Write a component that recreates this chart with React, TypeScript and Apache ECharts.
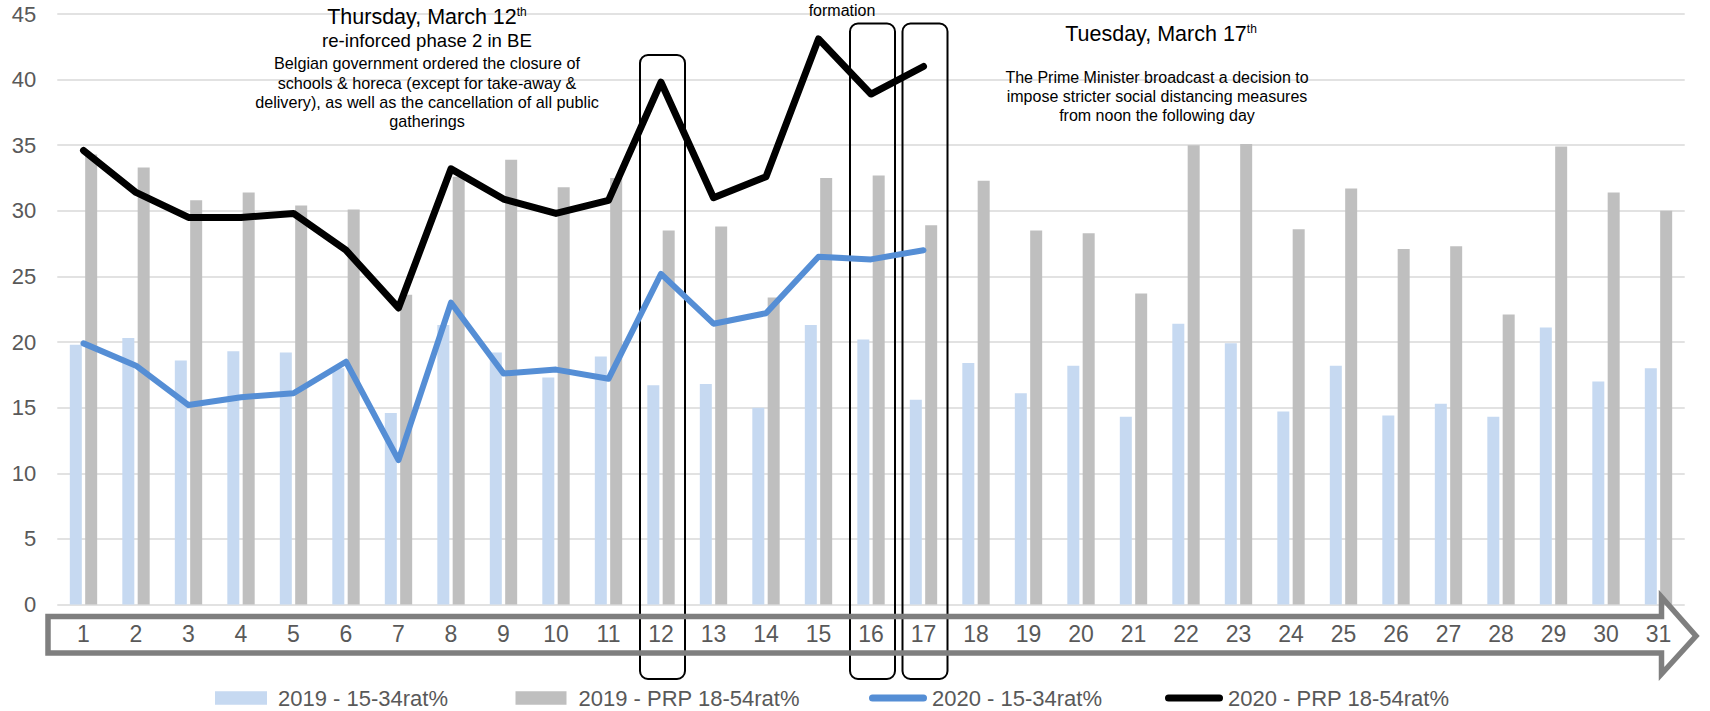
import React, { useEffect, useRef } from "react";
import * as echarts from "echarts";

const days: string[] = [
  "1", "2", "3", "4", "5", "6", "7", "8", "9", "10",
  "11", "12", "13", "14", "15", "16", "17", "18", "19", "20",
  "21", "22", "23", "24", "25", "26", "27", "28", "29", "30", "31",
];

const young2019: number[] = [
  19.8, 20.3, 18.6, 19.3, 19.2, 18.0, 14.6, 21.3, 19.2, 17.3,
  18.9, 16.7, 16.8, 15.0, 21.3, 20.2, 15.6, 18.4, 16.1, 18.2,
  14.3, 21.4, 19.9, 14.7, 18.2, 14.4, 15.3, 14.3, 21.1, 17.0, 18.0,
];

const prp2019: number[] = [
  34.3, 33.3, 30.8, 31.4, 30.4, 30.1, 23.6, 32.6, 33.9, 31.8,
  32.5, 28.5, 28.8, 23.4, 32.5, 32.7, 28.9, 32.3, 28.5, 28.3,
  23.7, 35.0, 35.1, 28.6, 31.7, 27.1, 27.3, 22.1, 34.9, 31.4, 30.0,
];

const young2020: number[] = [
  19.9, 18.2, 15.2, 15.8, 16.1, 18.5, 11.0, 23.0, 17.6, 17.9,
  17.2, 25.2, 21.4, 22.2, 26.5, 26.3, 27.0,
];

const prp2020: number[] = [
  34.6, 31.4, 29.5, 29.5, 29.8, 27.0, 22.6, 33.2, 30.9, 29.8,
  30.8, 39.8, 31.0, 32.6, 43.1, 38.9, 41.0,
];

const seriesNames: string[] = [
  "2019 - 15-34rat%",
  "2019 - PRP 18-54rat%",
  "2020 - 15-34rat%",
  "2020 - PRP 18-54rat%",
];

const highlightedDays: string[] = ["12", "16", "17"];

const FONT = "'Liberation Sans', Arial, Helvetica, sans-serif";
const LABEL = "#595959";
const CAPSULE = "path://M3.5,0H54.5A3.5,3.5,0,0,1,54.5,7H3.5A3.5,3.5,0,0,1,3.5,0Z";

export default function App() {
  const ref = useRef<HTMLDivElement>(null);

  useEffect(() => {
    if (!ref.current) return;
    const chart = echarts.init(ref.current, null, { renderer: "svg" });

    const legendText = (pad: number) => ({
      color: LABEL,
      fontSize: 22,
      lineHeight: 22,
      fontFamily: FONT,
      padding: [0, 0, 0, pad],
    });

    const LEG_TOP = 687;

    chart.setOption({
      animation: false,
      backgroundColor: "#ffffff",
      grid: { left: 57.25, right: 25.25, top: 14, bottom: 106.5, containLabel: false },
      xAxis: {
        type: "category",
        data: days,
        axisLine: { show: false },
        axisTick: { show: false },
        axisLabel: {
          color: LABEL,
          fontSize: 23,
          fontFamily: FONT,
          margin: 18,
          interval: 0,
        },
      },
      yAxis: {
        type: "value",
        min: 0,
        max: 45,
        interval: 5,
        axisLine: { show: false },
        axisTick: { show: false },
        axisLabel: { color: LABEL, fontSize: 22, fontFamily: FONT, margin: 21 },
        splitLine: { lineStyle: { color: "#D9D9D9", width: 1.5 } },
      },
      legend: [
        {
          left: 215, top: LEG_TOP, padding: 0, itemWidth: 52, itemHeight: 13.5,
          icon: "rect", textStyle: legendText(6), selectedMode: false,
          data: [seriesNames[0]],
        },
        {
          left: 515.5, top: LEG_TOP, padding: 0, itemWidth: 51, itemHeight: 13.5,
          icon: "rect", textStyle: legendText(7), selectedMode: false,
          data: [seriesNames[1]],
        },
        {
          left: 869, top: LEG_TOP, padding: 0, itemWidth: 58, itemHeight: 7,
          icon: CAPSULE, itemStyle: { borderWidth: 0 }, textStyle: legendText(0), selectedMode: false,
          data: [seriesNames[2]],
        },
        {
          left: 1165, top: LEG_TOP, padding: 0, itemWidth: 58, itemHeight: 7,
          icon: CAPSULE, itemStyle: { borderWidth: 0 }, textStyle: legendText(0), selectedMode: false,
          data: [seriesNames[3]],
        },
      ],
      series: [
        {
          name: seriesNames[0], type: "bar", data: young2019, barWidth: 12, barGap: "28%",
          itemStyle: { color: "#C6D9F1" }, z: 2,
        },
        {
          name: seriesNames[1], type: "bar", data: prp2019, barWidth: 12, barGap: "28%",
          itemStyle: { color: "#BFBFBF" }, z: 2,
        },
        {
          name: seriesNames[2], type: "line", data: young2020, symbol: "none",
          lineStyle: { color: "#558ED5", width: 6, cap: "round", join: "round" },
          itemStyle: { color: "#558ED5" }, z: 5,
        },
        {
          name: seriesNames[3], type: "line", data: prp2020, symbol: "none",
          lineStyle: { color: "#000000", width: 7, cap: "round", join: "round" },
          itemStyle: { color: "#000000" }, z: 6,
        },
      ],
    });

    const boxes = highlightedDays.map((d) => {
      const idx = days.indexOf(d);
      const cx = chart.convertToPixel({ xAxisIndex: 0 }, idx) as number;
      const top = d === "12" ? 55 : 23.5;
      return {
        type: "rect",
        z: 4,
        shape: { x: cx - 21, y: top, width: 45, height: 679 - top, r: 8 },
        style: { fill: "none", stroke: "#000000", lineWidth: 2 },
      };
    });

    const txt = (text: string, x: number, y: number, size: number) => ({
      type: "text",
      z: 8,
      style: {
        text, x, y, fill: "#000000", fontSize: size, fontFamily: FONT,
        align: "center", verticalAlign: "middle",
      },
    });

    const headline = (main: string, sup: string, x: number, y: number) => ({
      type: "text",
      z: 8,
      style: {
        text: `{a|${main}}{b|${sup}}`,
        x, y, align: "center", verticalAlign: "middle",
        rich: {
          a: { fontSize: 21.5, fontFamily: FONT, fill: "#000000", color: "#000000" },
          b: { fontSize: 12, fontFamily: FONT, fill: "#000000", color: "#000000", verticalAlign: "top" },
        },
      },
    });

    chart.setOption({
      graphic: [
        {
          type: "polygon",
          z: 7,
          shape: {
            points: [
              [48, 616.5], [1661.5, 616.5], [1661.5, 597], [1696, 636],
              [1661.5, 674], [1661.5, 653], [48, 653],
            ],
          },
          style: { fill: "none", stroke: "#7F7F7F", lineWidth: 5.5, lineJoin: "miter" },
        },
        ...boxes,
        headline("Thursday, March 12", "th", 427, 17),
        txt("re-inforced phase 2 in BE", 427, 40.5, 18.6),
        txt("Belgian government ordered the closure of", 427, 63, 16.2),
        txt("schools & horeca (except for take-away &", 427, 82.5, 16.2),
        txt("delivery), as well as the cancellation of all public", 427, 101.8, 16.2),
        txt("gatherings", 427, 121, 16.2),
        txt("formation", 842, 10, 16),
        headline("Tuesday, March 17", "th", 1161, 33.5),
        txt("The Prime Minister broadcast a decision to", 1157, 77, 16),
        txt("impose stricter social distancing measures", 1157, 96.5, 16),
        txt("from noon the following day", 1157, 115, 16),
      ],
    });

    return () => chart.dispose();
  }, []);

  return (
    <div
      ref={ref}
      style={{ position: "fixed", left: 0, top: 0, width: 1710, height: 711 }}
    />
  );
}
